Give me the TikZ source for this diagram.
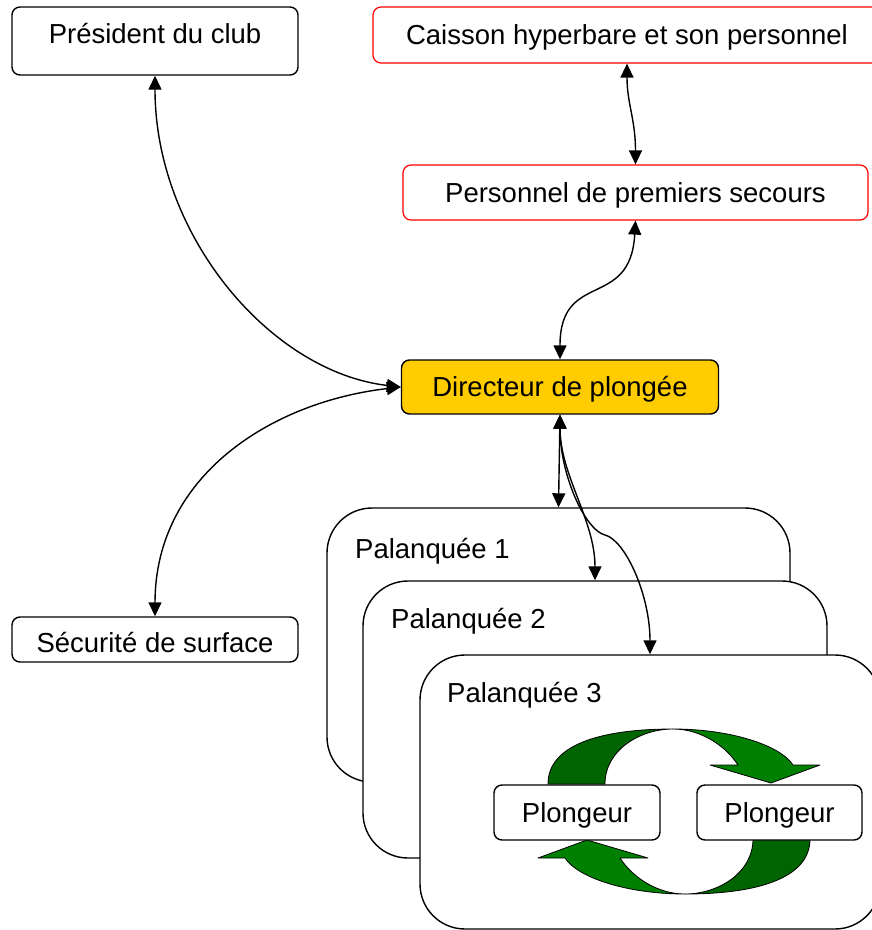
\documentclass[tikz,border=0pt]{standalone}
\usepackage{fontspec}
\setmainfont{Liberation Sans}
\usetikzlibrary{arrows.meta}
\definecolor{dirfill}{HTML}{FFCC00}
\definecolor{ribbonlight}{HTML}{008000}
\definecolor{ribbondark}{HTML}{006400}

% One half of the exchange symbol: a twisted ribbon ending in an arrow head
\newcommand{\greenturn}{%
  \filldraw[ribbon, fill=ribbonlight]
    (-6,-82.5) .. controls (51,-82.5) and (101,-66.5) .. (114,-46.5)
    -- (141,-46.5) -- (92,-28.5) -- (31,-46.5) -- (59,-46.5)
    .. controls (46,-66.5) and (21,-82.5) .. (-6,-82.5) -- cycle;
  \filldraw[ribbon, fill=ribbondark]
    (-131,-27.5) .. controls (-131,-66.5) and (-79,-82.5) .. (-6,-82.5)
    .. controls (-39,-82.5) and (-74,-61.5) .. (-74,-27.5) -- cycle;
}

\begin{document}
\begin{tikzpicture}[x=1pt, y=-1pt,
  font=\fontsize{27.5}{33}\selectfont,
  box/.style={draw=black, line width=1.4pt, rounded corners=8pt, fill=white,
    inner sep=0pt, text height=19.4pt, text depth=0pt},
  redbox/.style={box, draw=red, line width=1.2pt},
  group/.style={draw=black, line width=1.4pt, rounded corners=45pt, fill=white,
    inner sep=0pt},
  grouplabel/.style={anchor=base west, inner sep=0pt},
  link/.style={line width=1.4pt, {Triangle[length=14pt, width=13pt]}-{Triangle[length=14pt, width=13pt]}},
  ribbon/.style={draw=black, line width=0.8pt, line join=round},
]
\useasboundingbox (0,0) rectangle (872,930);

% Top row and first-aid chain
\node[box, minimum width=286pt, minimum height=68pt, text depth=14pt] (pres) at (155,41) {Président du club};
\node[redbox, minimum width=508pt, minimum height=56pt] (cais) at (627,35) {Caisson hyperbare et son personnel};
\node[redbox, minimum width=465pt, minimum height=55pt] (pers) at (635.5,192.5) {Personnel de premiers secours};

% Dive director and surface safety
\node[box, fill=dirfill, minimum width=317pt, minimum height=54pt] (dir) at (560,387) {Directeur de plongée};
\node[box, minimum width=286pt, minimum height=45pt, text height=26pt] (sec) at (155,639.5) {Sécurité de surface};

% Dive groups, stacked
\node[group, minimum width=463pt, minimum height=274pt] (p1) at (558.5,645) {};
\node[grouplabel] (l1) at (355,558) {Palanquée 1};
\node[group, minimum width=464pt, minimum height=277pt] (p2) at (595,719.5) {};
\node[grouplabel] (l2) at (391,628) {Palanquée 2};
\node[group, minimum width=460pt, minimum height=274pt] (p3) at (650,792) {};
\node[grouplabel] (l3) at (447,702) {Palanquée 3};

% Exchange arrows between the two divers
\begin{scope}[shift={(679,811.5)}]
  \greenturn
\end{scope}
\begin{scope}[shift={(679,811.5)}, rotate=180]
  \greenturn
\end{scope}

\node[box, minimum width=166pt, minimum height=55pt] (dv1) at (577,812.5) {Plongeur};
\node[box, minimum width=165pt, minimum height=55pt] (dv2) at (779.5,812.5) {Plongeur};

% Connectors
\draw[link] (pres.south) .. controls +(0,160) and +(-130,-15) .. (dir.west);
\draw[link] (dir.west) .. controls +(-130,15) and +(0,-140) .. (sec.north);
\draw[link] (cais.south) .. controls +(0,40) and +(0,-45) .. (pers.north);
\draw[link] (pers.south) .. controls +(-5,90) and +(0,-90) .. (dir.north);
\draw[link] (dir.south) -- (p1.north);
\draw[link] (dir.south) .. controls +(0,60) and +(0,-60) .. (p2.north);
\coordinate (bend3) at (605,535);
\draw[link] (dir.south) .. controls +(0,60) and +(-20,-5) .. (bend3)
  .. controls +(20,5) and +(0,-60) .. (p3.north);
\end{tikzpicture}
\end{document}
